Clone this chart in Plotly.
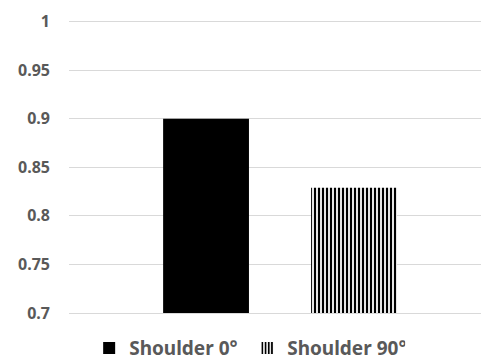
import plotly.graph_objects as go

categories = ["Shoulder 0°", "Shoulder 90°"]
values = [0.9, 0.829]
tick_vals = [0.7, 0.75, 0.8, 0.85, 0.9, 0.95, 1.0]
tick_text = ["0.7", "0.75", "0.8", "0.85", "0.9", "0.95", "1"]

fig = go.Figure()
fig.add_trace(go.Bar(
    x=[0], y=[values[0]], name=categories[0], width=0.58,
    marker=dict(color="black", line=dict(width=0)),
))
fig.add_trace(go.Bar(
    x=[1], y=[values[1]], name=categories[1], width=0.58,
    marker=dict(color="white", line=dict(width=0),
                pattern=dict(shape="|", fgcolor="black", bgcolor="white",
                             size=4, solidity=0.55, fillmode="replace")),
))
fig.update_layout(
    width=481, height=352,
    margin=dict(l=61, r=0, t=12, b=47, autoexpand=False),
    plot_bgcolor="white", paper_bgcolor="white",
    barmode="overlay",
    font=dict(family="Noto Sans", size=16, color="#595959"),
    xaxis=dict(range=[-0.926, 1.912], showticklabels=False, showgrid=False,
               zeroline=False, showline=True, linecolor="#d9d9d9", linewidth=1,
               automargin=False),
    yaxis=dict(range=[0.7, 1.0015], tickvals=tick_vals, ticktext=tick_text,
               showgrid=True, gridcolor="#d9d9d9", gridwidth=1, zeroline=False,
               automargin=False,
               ticklabelstandoff=18, tickfont=dict(size=16, weight="bold", color="#595959")),
    legend=dict(orientation="h", x=0.048, xanchor="left", y=-0.12, yanchor="middle",
                font=dict(size=19, weight="bold", color="#595959"), traceorder="normal",
                itemwidth=30, entrywidth=113, entrywidthmode="pixels"),
    showlegend=True,
)
fig.write_html("out.html")
